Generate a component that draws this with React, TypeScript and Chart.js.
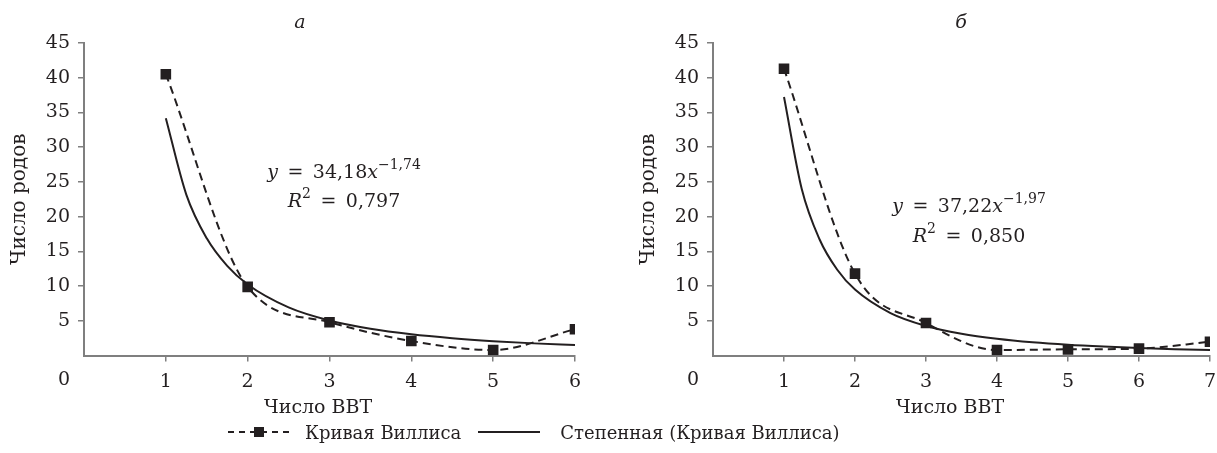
import React, { useEffect, useRef } from 'react';
import { Chart, registerables } from 'chart.js';

Chart.register(...registerables);

// ---- text ----
const panelTitles = ['а', 'б'];
const xAxisTitle = 'Число ВВТ';
const yAxisTitle = 'Число родов';
const seriesName = 'Кривая Виллиса';
const trendName = 'Степенная (Кривая Виллиса)';

// ---- panel а ----
const vvtA = [1, 2, 3, 4, 5, 6];
const willisA = [40.5, 9.9, 4.8, 2.1, 0.8, 3.8];
const trendXA = [1, 1.25, 1.5, 1.75, 2, 2.5, 3, 3.5, 4, 4.5, 5, 5.5, 6];
const trendYA = [34.18, 23.18, 16.88, 12.91, 10.23, 6.94, 5.05, 3.86, 3.06, 2.5, 2.08, 1.76, 1.51];
const eqA = ['34,18', '−1,74', '0,797'];

// ---- panel б ----
const vvtB = [1, 2, 3, 4, 5, 6, 7];
const willisB = [41.3, 11.8, 4.7, 0.8, 0.9, 1.0, 2.0];
const trendXB = [1, 1.25, 1.5, 1.75, 2, 2.5, 3, 3.5, 4, 4.5, 5, 5.5, 6, 6.5, 7];
const trendYB = [37.22, 23.98, 16.75, 12.36, 9.5, 6.12, 4.27, 3.16, 2.43, 1.92, 1.56, 1.3, 1.09, 0.93, 0.81];
const eqB = ['37,22', '−1,97', '0,850'];

// ---- axis ----
const yMin = 0;
const yMax = 45;
const yStep = 5;
const xMaxA = 6;
const xMaxB = 7;

const FONT = '"DejaVu Serif", serif';
const INK = '#231f20';
const AXIS = '#7f7f7f';
const baseFont = { family: FONT, size: 19, weight: 'normal' as const, lineHeight: 1.2 };

type Part = { t: string; i?: boolean; sup?: boolean };
type Line = { cx: number; cy: number; parts: Part[] };

const textPlugin = {
  id: 'richText',
  afterDraw(chart: any, _args: any, opts: any) {
    const ctx = chart.ctx as CanvasRenderingContext2D;
    const lines: Line[] = opts.lines || [];
    ctx.save();
    ctx.fillStyle = INK;
    ctx.textBaseline = 'middle';
    ctx.textAlign = 'left';
    for (const line of lines) {
      const segs = line.parts.map((p) => ({
        ...p,
        font: `${p.i ? 'italic ' : ''}${p.sup ? 14 : 19}px ${FONT}`,
        w: 0,
      }));
      let total = 0;
      for (const s of segs) {
        ctx.font = s.font;
        s.w = ctx.measureText(s.t).width;
        total += s.w;
      }
      let x = line.cx - total / 2;
      for (const s of segs) {
        ctx.font = s.font;
        ctx.fillText(s.t, x, line.cy - (s.sup ? 8 : 0));
        x += s.w;
      }
    }
    ctx.restore();
  },
};

const SP = '\u2002';

function textLines(title: string, tx: number, eq: string[], cx: number, cy1: number, cy2: number): Line[] {
  return [
    { cx: tx, cy: 23, parts: [{ t: title, i: true }] },
    {
      cx,
      cy: cy1,
      parts: [
        { t: 'y', i: true },
        { t: SP + '=' + SP + eq[0] },
        { t: 'x', i: true },
        { t: eq[1], sup: true },
      ],
    },
    {
      cx,
      cy: cy2,
      parts: [{ t: 'R', i: true }, { t: '2', sup: true }, { t: SP + '=' + SP + eq[2] }],
    },
  ];
}

function buildConfig(p: {
  xs: number[];
  ys: number[];
  txs: number[];
  tys: number[];
  xMax: number;
  padRight: number;
  lines: Line[];
}): any {
  const tickColor = (c: any) => (c.tick && c.tick.value === 0 ? 'rgba(0,0,0,0)' : AXIS);
  return {
    type: 'line',
    data: {
      datasets: [
        {
          label: seriesName,
          data: p.xs.map((x, i) => ({ x, y: p.ys[i] })),
          borderColor: INK,
          backgroundColor: INK,
          pointBackgroundColor: INK,
          borderWidth: 2,
          borderDash: [8, 5],
          cubicInterpolationMode: 'monotone',
          pointStyle: 'rect',
          pointRadius: 7.5,
          pointHoverRadius: 7.5,
          pointBorderWidth: 0,
          order: 0,
        },
        {
          label: trendName,
          data: p.txs.map((x, i) => ({ x, y: p.tys[i] })),
          borderColor: INK,
          borderWidth: 2,
          pointRadius: 0,
          cubicInterpolationMode: 'monotone',
          order: 1,
        },
      ],
    },
    options: {
      animation: false,
      responsive: false,
      events: [],
      layout: { padding: { top: 43, right: p.padRight, bottom: 5.6, left: 0 } },
      plugins: {
        legend: { display: false },
        tooltip: { enabled: false },
        title: { display: false },
        richText: { lines: p.lines },
      },
      scales: {
        x: {
          type: 'linear',
          min: 0,
          max: p.xMax,
          ticks: {
            stepSize: 1,
            autoSkip: false,
            color: INK,
            font: baseFont,
            padding: 9.5,
            callback: (v: number) => (v === 0 ? '' : String(v)),
          },
          grid: { drawOnChartArea: false, tickLength: 6, lineWidth: 1.5, color: AXIS, tickColor },
          border: { display: true, color: AXIS, width: 2 },
          title: {
            display: true,
            text: xAxisTitle + '\u2003\u2009',
            color: INK,
            font: baseFont,
            padding: { top: -6.8, bottom: 0 },
          },
        },
        y: {
          type: 'linear',
          min: yMin,
          max: yMax,
          afterFit: (s: any) => {
            s.width = 84;
          },
          ticks: {
            stepSize: yStep,
            autoSkip: false,
            color: INK,
            font: { ...baseFont, lineHeight: 1.3 },
            padding: 8,
            callback: (v: number) => (v === 0 ? ['', '', '0'] : String(v)),
          },
          grid: { drawOnChartArea: false, tickLength: 6, lineWidth: 1.5, color: AXIS, tickColor },
          border: { display: true, color: AXIS, width: 2 },
          title: {
            display: true,
            text: yAxisTitle,
            color: INK,
            font: { ...baseFont, size: 20 },
            padding: { top: 8, bottom: 0 },
          },
        },
      },
    },
    plugins: [textPlugin],
  };
}

function Panel(props: { config: () => any; left: number; width: number; height: number }) {
  const ref = useRef<HTMLCanvasElement | null>(null);
  useEffect(() => {
    const chart = new Chart(ref.current as HTMLCanvasElement, props.config());
    return () => chart.destroy();
  }, []);
  return (
    <canvas
      ref={ref}
      width={props.width}
      height={props.height}
      style={{ position: 'absolute', left: props.left, top: 0, width: props.width, height: props.height }}
    />
  );
}

export default function App() {
  const cfgA = () =>
    buildConfig({
      xs: vvtA,
      ys: willisA,
      txs: trendXA,
      tys: trendYA,
      xMax: xMaxA,
      padRight: 25,
      lines: textLines(panelTitles[0], 300, eqA, 344, 173, 202),
    });
  const cfgB = () =>
    buildConfig({
      xs: vvtB,
      ys: willisB,
      txs: trendXB,
      tys: trendYB,
      xMax: xMaxB,
      padRight: 39,
      lines: textLines(panelTitles[1], 332, eqB, 340, 207, 237),
    });
  return (
    <div style={{ position: 'absolute', left: 0, top: 0, width: 1217, height: 453, background: '#fff', overflow: 'hidden' }}>
      <Panel config={cfgA} left={0} width={600} height={425} />
      <Panel config={cfgB} left={629} width={620} height={425} />
      <div
        style={{
          position: 'absolute',
          left: 228,
          top: 421,
          height: 22,
          display: 'flex',
          alignItems: 'center',
          fontFamily: FONT,
          fontSize: 18,
          color: INK,
          whiteSpace: 'nowrap',
        }}
      >
        <svg width={62} height={14}>
          <line x1={0} y1={7} x2={62} y2={7} stroke={INK} strokeWidth={2} strokeDasharray="6 5" />
          <rect x={26} y={2} width={10} height={10} fill={INK} />
        </svg>
        <span style={{ marginLeft: 15 }}>{seriesName}</span>
        <svg width={62} height={14} style={{ marginLeft: 17 }}>
          <line x1={0} y1={7} x2={62} y2={7} stroke={INK} strokeWidth={2} />
        </svg>
        <span style={{ marginLeft: 20 }}>{trendName}</span>
      </div>
    </div>
  );
}
